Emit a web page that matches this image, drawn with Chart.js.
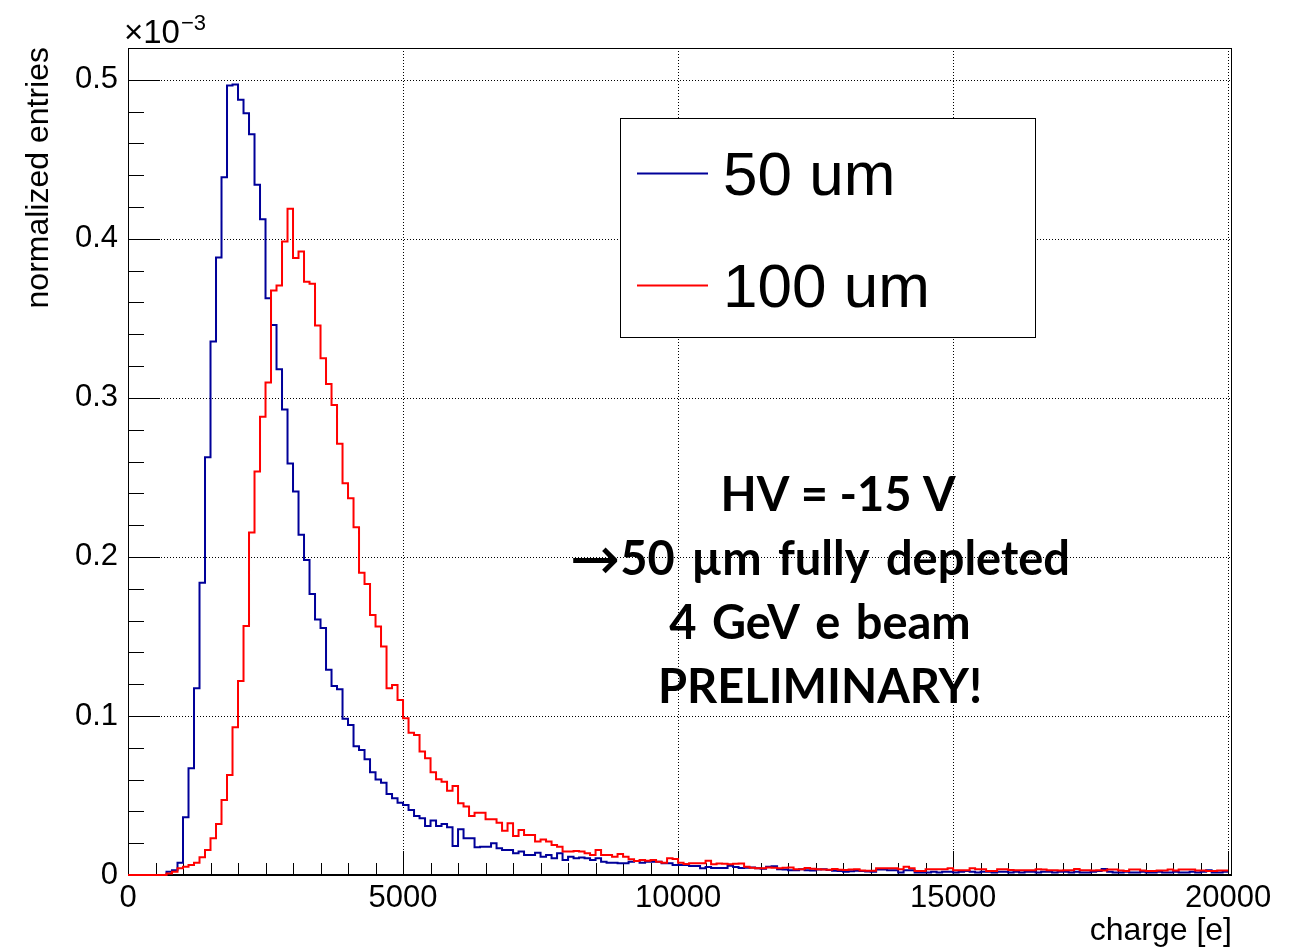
<!DOCTYPE html>
<html>
<head>
<meta charset="utf-8">
<title>charge distribution</title>
<script src="https://cdn.jsdelivr.net/npm/chart.js@4.4.1/dist/chart.umd.min.js"></script>
<style>
    html, body { margin: 0; padding: 0; background: #fff; }
    canvas { display: block; }
</style>
</head>
<body>
<canvas id="chargeChart" width="1299" height="949"></canvas>
<script>
// histogram binning (charge in e), 200 bins of 100 e
const binWidth = 100;
const xTicks = [0, 5000, 10000, 15000, 20000];
const yTicks = [0, 0.1, 0.2, 0.3, 0.4, 0.5];   // x 10^-3
const seriesNames = ['50 um', '100 um'];

// normalized entries (x 10^-3), one value per bin
const entries50um = [
    0, 0, 0, 0, 0, 0, 0, 0.002, 0.003, 0.0077,
    0.0363, 0.0671, 0.1174, 0.1838, 0.2627, 0.3354, 0.3882, 0.4388, 0.4964, 0.497,
    0.4874, 0.479, 0.4658, 0.434, 0.4124, 0.3627, 0.3459, 0.318, 0.2927, 0.2587,
    0.2411, 0.214, 0.1981, 0.1767, 0.1606, 0.1553, 0.1291, 0.1189, 0.1168, 0.0982,
    0.0943, 0.081, 0.0786, 0.0728, 0.0646, 0.060, 0.058, 0.0509, 0.0482, 0.0455,
    0.044, 0.0409, 0.0371, 0.0357, 0.0308, 0.0342, 0.0308, 0.0321, 0.030, 0.0182,
    0.0287, 0.0231, 0.0231, 0.0174, 0.0178, 0.0178, 0.0199, 0.0168, 0.0157, 0.0157,
    0.0136, 0.0147, 0.0126, 0.0126, 0.014, 0.0115, 0.0126, 0.0105, 0.0136, 0.0094,
    0.0115, 0.0105, 0.011, 0.0105, 0.0094, 0.0105, 0.0084, 0.0077, 0.0077, 0.0074,
    0.0074, 0.0084, 0.0088, 0.0077, 0.0084, 0.0084, 0.0084, 0.0074, 0.0074, 0.0063,
    0.0063, 0.0063, 0.0057, 0.0057, 0.0042, 0.005, 0.0044, 0.0044, 0.0044, 0.0058,
    0.005, 0.0044, 0.0046, 0.0047, 0.0042, 0.004, 0.0052, 0.0055, 0.0036, 0.0034,
    0.003, 0.003, 0.0036, 0.003, 0.0028, 0.0035, 0.0036, 0.0031, 0.0027, 0.0025,
    0.002, 0.0024, 0.0026, 0.0025, 0.0022, 0.002, 0.0035, 0.0035, 0.003, 0.003,
    0.0015, 0.003, 0.003, 0.0015, 0.0015, 0.0015, 0.002, 0.0015, 0.002, 0.002,
    0.0015, 0.002, 0.0025, 0.002, 0.0015, 0.002, 0.002, 0.0015, 0.002, 0.002,
    0.0015, 0.002, 0.0015, 0.002, 0.002, 0.0015, 0.002, 0.002, 0.0015, 0.002,
    0.002, 0.0015, 0.002, 0.0015, 0.0015, 0.002, 0.0025, 0.0038, 0.002, 0.0015,
    0.0015, 0.002, 0.0015, 0.0015, 0.002, 0.0015, 0.0015, 0.002, 0.0015, 0.0015,
    0.002, 0.0015, 0.0015, 0.002, 0.0015, 0.002, 0.003, 0.0015, 0.0015, 0.002
];

const entries100um = [
    0, 0, 0, 0, 0, 0, 0, 0.001, 0.002, 0.0042,
    0.0052, 0.0063, 0.0077, 0.0111, 0.0157, 0.0231, 0.0321, 0.0472, 0.0629, 0.0929,
    0.122, 0.1566, 0.2153, 0.2537, 0.2882, 0.3096, 0.3675, 0.3706, 0.3983, 0.4189,
    0.3879, 0.392, 0.3731, 0.3717, 0.3455, 0.325, 0.3088, 0.2956, 0.2711, 0.2463,
    0.2369, 0.2187, 0.1901, 0.183, 0.1635, 0.1562, 0.1436, 0.1174, 0.1195, 0.1101,
    0.0986, 0.0895, 0.0881, 0.0776, 0.0734, 0.0646, 0.0602, 0.0587, 0.053, 0.056,
    0.0451, 0.043, 0.0371, 0.0392, 0.0392, 0.035, 0.035, 0.0329, 0.0279, 0.0325,
    0.0245, 0.0283, 0.0252, 0.0252, 0.021, 0.0224, 0.021, 0.0189, 0.0178, 0.0147,
    0.0147, 0.0151, 0.0147, 0.0136, 0.0126, 0.0157, 0.0126, 0.0126, 0.0115, 0.0132,
    0.0115, 0.0099, 0.0088, 0.0094, 0.009, 0.0094, 0.0084, 0.0077, 0.0105, 0.0101,
    0.0077, 0.0069, 0.0074, 0.0074, 0.0074, 0.009, 0.0067, 0.0072, 0.007, 0.0067,
    0.007, 0.0072, 0.0052, 0.0045, 0.0042, 0.0042, 0.0047, 0.0045, 0.0043, 0.0046,
    0.0047, 0.0036, 0.0036, 0.0044, 0.004, 0.0036, 0.0034, 0.0033, 0.0038, 0.0033,
    0.0032, 0.0035, 0.0036, 0.0028, 0.0027, 0.0027, 0.0042, 0.0042, 0.0042, 0.0042,
    0.0036, 0.0052, 0.0042, 0.0025, 0.0025, 0.0036, 0.0036, 0.0036, 0.0036, 0.0042,
    0.003, 0.003, 0.003, 0.0042, 0.0036, 0.0036, 0.0025, 0.0025, 0.0036, 0.0036,
    0.0031, 0.003, 0.003, 0.003, 0.003, 0.0036, 0.0034, 0.003, 0.003, 0.0028,
    0.003, 0.003, 0.0038, 0.003, 0.003, 0.0028, 0.003, 0.0028, 0.0034, 0.0034,
    0.0028, 0.0025, 0.0034, 0.0034, 0.0028, 0.0025, 0.0025, 0.0028, 0.0028, 0.0034,
    0.0028, 0.0034, 0.0034, 0.0034, 0.0028, 0.0028, 0.0025, 0.0025, 0.0028, 0.0028
];

const noteLines = ['HV = -15 V', '\u219250 \u00b5m fully depleted', '4 GeV e beam', 'PRELIMINARY!'];

const FONT = "'Liberation Sans', Arial, sans-serif";
const NOTE_FONT = "Lato, 'Open Sans', sans-serif";

// histogram bins -> points at the left bin edges, plus the closing right edge
function toSteps(values) {
    const pts = values.map((v, i) => ({ x: i * binWidth, y: v }));
    pts.push({ x: values.length * binWidth, y: values[values.length - 1] });
    return pts;
}

function strokeLine(ctx, x1, y1, x2, y2) {
    ctx.beginPath();
    ctx.moveTo(x1, y1);
    ctx.lineTo(x2, y2);
    ctx.stroke();
}

// ROOT-like frame: dotted grid, inward ticks, axis titles, legend box, note
const rootStyle = {
    id: 'rootStyle',
    beforeDatasetsDraw(chart) {
        const { ctx, chartArea: a, scales: { x, y } } = chart;
        ctx.save();
        ctx.strokeStyle = '#000';
        ctx.lineWidth = 1;

        // dotted grid at the major ticks
        ctx.setLineDash([1, 2]);
        xTicks.forEach(v => {
            if (v === 0) return;
            const px = Math.round(x.getPixelForValue(v)) + 0.5;
            strokeLine(ctx, px, a.top, px, a.bottom);
        });
        yTicks.forEach(v => {
            if (v === 0) return;
            const py = Math.round(y.getPixelForValue(v)) + 0.5;
            strokeLine(ctx, a.left, py, a.right, py);
        });
        ctx.setLineDash([]);

        // frame
        ctx.strokeRect(a.left + 0.5, a.top + 0.5, a.right - a.left - 1, a.bottom - a.top);
        ctx.lineWidth = 2;
        strokeLine(ctx, a.left, a.bottom, a.right, a.bottom);
        ctx.lineWidth = 1;

        // y ticks: major every 0.1, minor every 0.02
        for (let i = 0; i <= 26; i++) {
            const py = Math.round(y.getPixelForValue(i * 0.02)) + 0.5;
            const len = i % 5 === 0 ? 32 : 16;
            strokeLine(ctx, a.left, py, a.left + len, py);
        }
        // x ticks: major every 5000, minor every 500
        for (let i = 0; i <= 40; i++) {
            const px = Math.round(x.getPixelForValue(i * 500)) + 0.5;
            const len = i % 10 === 0 ? 24 : 12;
            strokeLine(ctx, px, a.bottom, px, a.bottom - len);
        }
        ctx.restore();
    },
    afterDraw(chart) {
        const { ctx, chartArea: a } = chart;
        ctx.save();
        ctx.fillStyle = '#000';

        // exponent label
        ctx.textBaseline = 'alphabetic';
        ctx.textAlign = 'left';
        ctx.font = `33px ${FONT}`;
        ctx.fillText('\u00d710', a.left - 4, 43);
        const w = ctx.measureText('\u00d710').width;
        ctx.font = `22px ${FONT}`;
        ctx.fillText('\u22123', a.left - 3 + w, 30);

        // y title
        ctx.save();
        ctx.translate(48, 47);
        ctx.rotate(-Math.PI / 2);
        ctx.textAlign = 'right';
        ctx.font = `32px ${FONT}`;
        ctx.fillText('normalized entries', 0, 0);
        ctx.restore();

        // x title
        ctx.textAlign = 'right';
        ctx.font = `32px ${FONT}`;
        ctx.fillText('charge [e]', a.right, 940);

        // legend box
        const box = { left: 620, top: 118, right: 1035, bottom: 337 };
        ctx.fillStyle = '#fff';
        ctx.fillRect(box.left, box.top, box.right - box.left, box.bottom - box.top);
        ctx.strokeStyle = '#000';
        ctx.lineWidth = 1;
        ctx.strokeRect(box.left + 0.5, box.top + 0.5, box.right - box.left, box.bottom - box.top);
        const rows = [173, 285];
        const legendOrder = [1, 0];   // dataset index of 50 um, 100 um
        ctx.font = `62px ${FONT}`;
        ctx.textAlign = 'left';
        ctx.textBaseline = 'middle';
        rows.forEach((ry, i) => {
            const ds = chart.data.datasets[legendOrder[i]];
            ctx.strokeStyle = ds.borderColor;
            ctx.lineWidth = 2;
            strokeLine(ctx, 637, ry + 0.5, 708, ry + 0.5);
            ctx.fillStyle = '#000';
            ctx.fillText(seriesNames[i], 723, ry + 5);
        });

        // annotation
        ctx.textBaseline = 'alphabetic';
        ctx.fillStyle = '#000';
        const baselines = [511, 575, 639, 703];
        const spacing = ['0px', '5px', '4px', '0px'];
        noteLines.forEach((line, i) => {
            const cx = i === 0 ? 838 : 820;
            ctx.wordSpacing = spacing[i];
            if (line.startsWith('\u2192')) {
                const arrow = line[0];
                const rest = line.slice(1);
                ctx.font = `60px 'DejaVu Sans', sans-serif`;
                const aw = ctx.measureText(arrow).width;
                ctx.font = `bold 47px ${NOTE_FONT}`;
                const rw = ctx.measureText(rest).width;
                const start = cx - (aw + rw) / 2;
                ctx.textAlign = 'left';
                ctx.font = `60px 'DejaVu Sans', sans-serif`;
                ctx.fillText(arrow, start, baselines[i] + 4);
                ctx.font = `bold 47px ${NOTE_FONT}`;
                ctx.fillText(rest, start + aw, baselines[i]);
            } else {
                ctx.textAlign = 'center';
                ctx.font = `bold 47px ${NOTE_FONT}`;
                ctx.fillText(line, cx, baselines[i]);
            }
        });
        ctx.wordSpacing = '0px';
        ctx.restore();
    }
};

const ctx = document.getElementById('chargeChart').getContext('2d');
const chargeChart = new Chart(ctx, {
    type: 'line',
    data: {
        datasets: [
            {
                label: seriesNames[1],
                data: toSteps(entries100um),
                borderColor: '#ff0000',
                borderWidth: 2,
                stepped: 'before',
                pointRadius: 0,
                fill: false,
                clip: 3,
                order: 0
            },
            {
                label: seriesNames[0],
                data: toSteps(entries50um),
                borderColor: '#000099',
                borderWidth: 2,
                stepped: 'before',
                pointRadius: 0,
                fill: false,
                clip: 3,
                order: 1
            }
        ]
    },
    options: {
        responsive: false,
        animation: false,
        devicePixelRatio: 1,
        layout: { padding: { left: 0, top: 48, right: 67, bottom: 0 } },
        plugins: {
            legend: { display: false },
            tooltip: { enabled: false }
        },
        scales: {
            x: {
                type: 'linear',
                min: 0,
                max: 20070,
                afterFit: s => { s.height = 74; },
                afterBuildTicks: s => { s.ticks = xTicks.map(v => ({ value: v })); },
                grid: { display: false, drawTicks: false },
                border: { display: false },
                ticks: {
                    color: '#000',
                    padding: 5,
                    maxRotation: 0,
                    autoSkip: false,
                    font: { family: FONT, size: 31 },
                    callback: v => String(v)
                }
            },
            y: {
                type: 'linear',
                min: 0,
                max: 0.52,
                afterFit: s => { s.width = 128; },
                afterBuildTicks: s => { s.ticks = yTicks.map(v => ({ value: v })); },
                grid: { display: false, drawTicks: false },
                border: { display: false },
                ticks: {
                    color: '#000',
                    padding: 10,
                    autoSkip: false,
                    font: { family: FONT, size: 31 },
                    callback: v => (v === 0 ? '0' : v.toFixed(1))
                }
            }
        }
    },
    plugins: [rootStyle]
});
</script>
</body>
</html>
